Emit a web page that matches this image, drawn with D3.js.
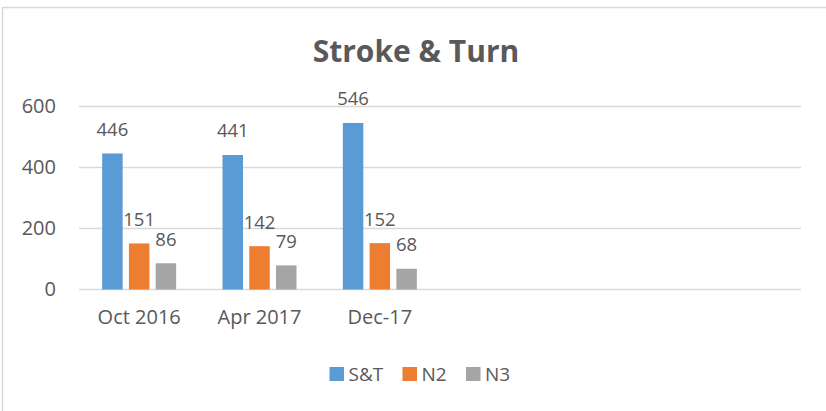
<!DOCTYPE html>
<html>
<head>
<meta charset="utf-8">
<script src="https://cdn.jsdelivr.net/npm/d3@7"></script>
<style>
  html, body { margin: 0; padding: 0; background: #fff; }
  svg { display: block; }
  text { font-family: "Open Sans", sans-serif; fill: #595959; }
</style>
</head>
<body>
<svg id="chart" width="826" height="411"></svg>
<script>
// Category slots on the x axis (the last three are still empty)
const categories = ["Oct 2016", "Apr 2017", "Dec-17", "", "", ""];
const seriesNames = ["S&T", "N2", "N3"];
const stValues = [446, 441, 546];
const n2Values = [151, 142, 152];
const n3Values = [86, 79, 68];
const yTicks = [0, 200, 400, 600];
const colors = ["#5B9BD5", "#ED7D31", "#A5A5A5"];

const seriesValues = [stValues, n2Values, n3Values];
const rows = [];
seriesValues.forEach((vals, s) => {
  vals.forEach((v, i) => rows.push({ cat: i, series: seriesNames[s], value: v }));
});

const svg = d3.select("#chart");

// Chart frame
svg.append("rect")
  .attr("x", 2.5).attr("y", 7.5)
  .attr("width", 840).attr("height", 420)
  .attr("fill", "#fff")
  .attr("stroke", "#D9D9D9")
  .attr("stroke-width", 1.5);

const plot = { left: 79, right: 801, top: 106.5, bottom: 289.5 };

const x = d3.scaleBand()
  .domain(d3.range(categories.length))
  .range([plot.left, plot.right])
  .paddingInner(0.385)
  .paddingOuter(0.1925);

const xs = d3.scaleBand()
  .domain(seriesNames)
  .range([0, x.bandwidth()])
  .paddingInner(0.234);

const y = d3.scaleLinear().domain([0, 600]).range([plot.bottom, plot.top]);

// Gridlines
svg.append("g")
  .selectAll("line")
  .data(yTicks)
  .join("line")
  .attr("x1", plot.left).attr("x2", plot.right)
  .attr("y1", d => y(d)).attr("y2", d => y(d))
  .attr("stroke", "#D9D9D9")
  .attr("stroke-width", 1.3);

// Y axis labels
const yAxis = svg.append("g")
  .attr("transform", `translate(${plot.left},0)`)
  .call(d3.axisLeft(y).tickValues(yTicks).tickSize(0).tickPadding(23));
yAxis.select(".domain").remove();
yAxis.selectAll("text")
  .style("font-size", "20px")
  .attr("fill", "#595959");

// X axis labels
const xAxis = svg.append("g")
  .attr("transform", `translate(0,${plot.bottom})`)
  .call(d3.axisBottom(x).tickFormat(i => categories[i]).tickSize(0).tickPadding(20));
xAxis.select(".domain").remove();
xAxis.selectAll("text")
  .style("font-size", "20px")
  .attr("fill", "#595959");

const color = d3.scaleOrdinal().domain(seriesNames).range(colors);

// Bars
svg.append("g")
  .selectAll("rect")
  .data(rows)
  .join("rect")
  .attr("x", d => x(d.cat) + xs(d.series))
  .attr("width", xs.bandwidth())
  .attr("y", d => y(d.value))
  .attr("height", d => y(0) - y(d.value))
  .attr("fill", d => color(d.series));

// Value labels
svg.append("g")
  .selectAll("text")
  .data(rows)
  .join("text")
  .attr("x", d => x(d.cat) + xs(d.series) + xs.bandwidth() / 2)
  .attr("y", d => y(d.value) - 17.5)
  .attr("text-anchor", "middle")
  .style("font-size", "18.5px")
  .text(d => d.value);

// Title
svg.append("text")
  .attr("x", 416).attr("y", 62)
  .attr("text-anchor", "middle")
  .style("font-size", "30px")
  .style("font-weight", "bold")
  .text("Stroke & Turn");

// Legend
const legendX = [329.5, 402.5, 466];
const legend = svg.append("g")
  .selectAll("g")
  .data(seriesNames)
  .join("g")
  .attr("transform", (d, i) => `translate(${legendX[i]},367)`);
legend.append("rect")
  .attr("width", 14.5).attr("height", 14)
  .attr("fill", d => color(d));
legend.append("text")
  .attr("x", 19).attr("y", 14)
  .style("font-size", "19px")
  .text(d => d);
</script>
</body>
</html>
